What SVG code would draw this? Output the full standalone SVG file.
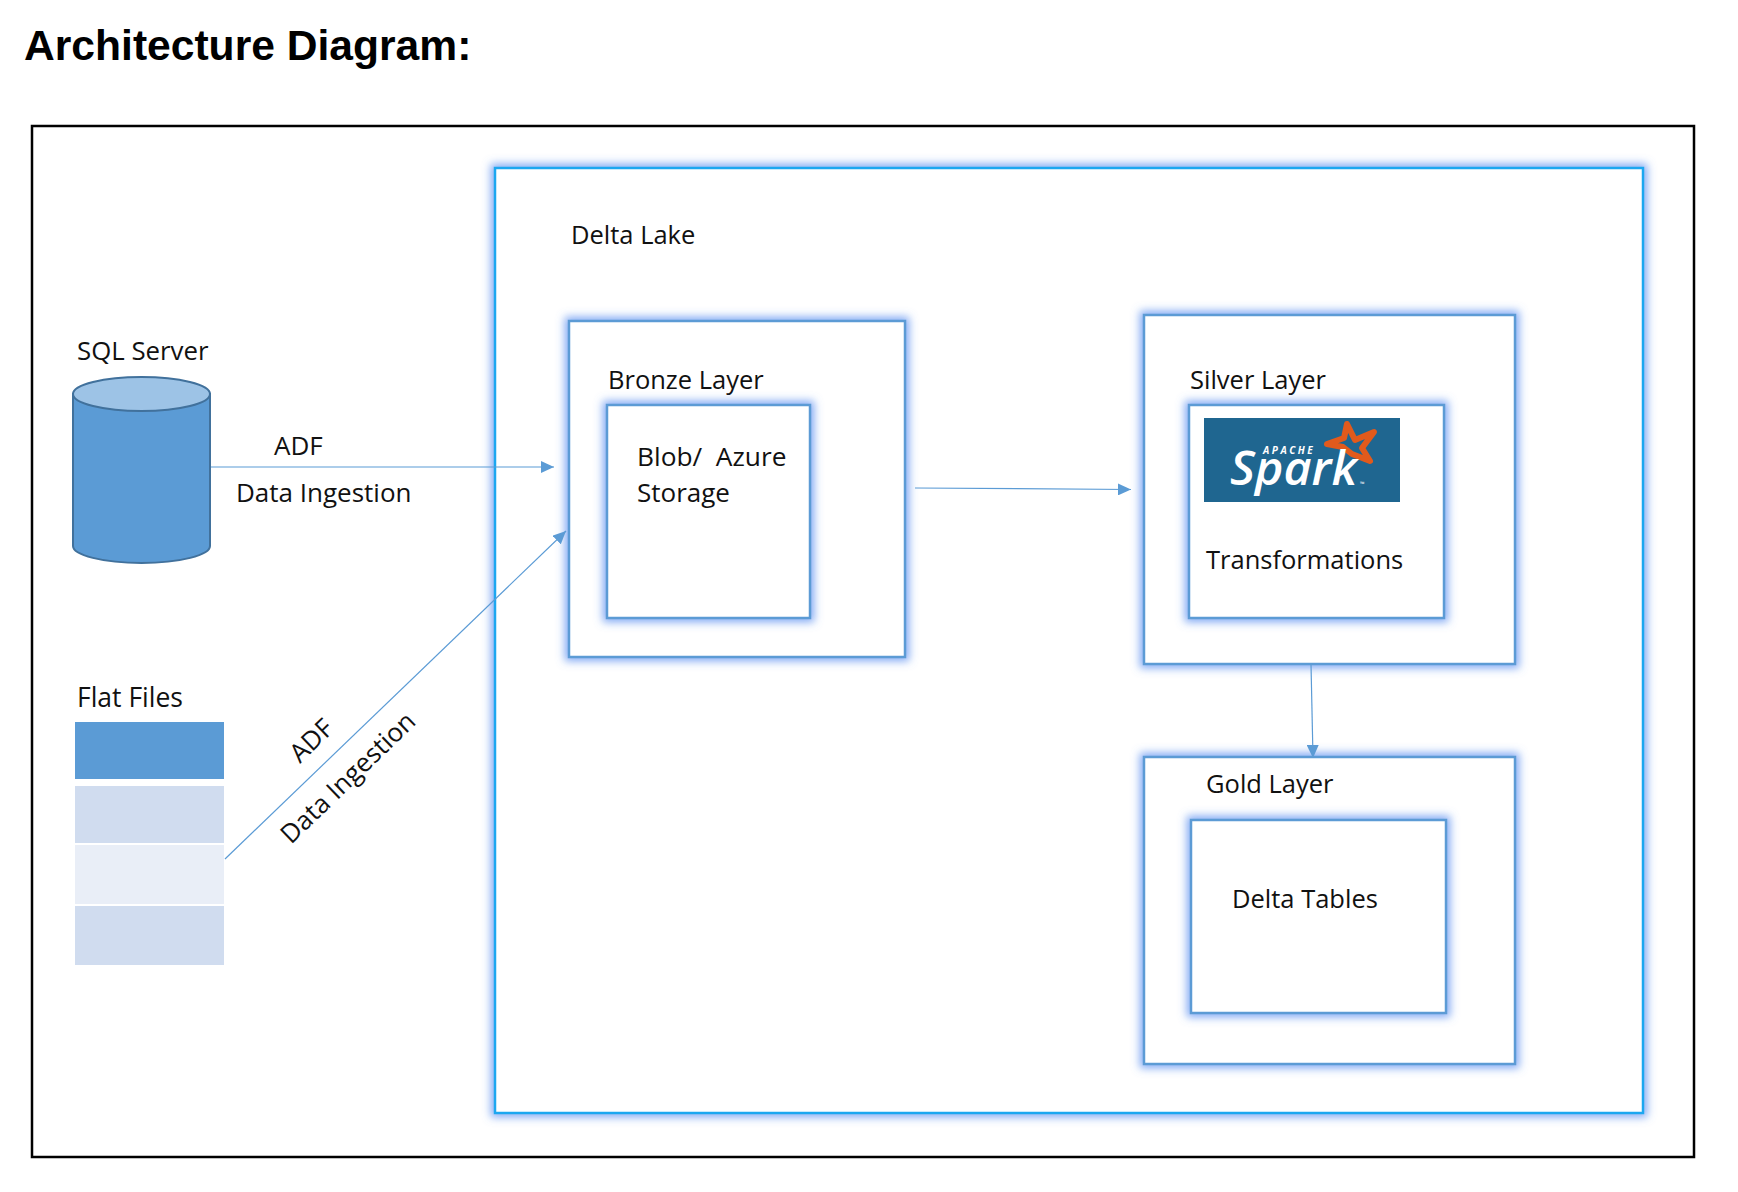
<svg xmlns="http://www.w3.org/2000/svg" width="1738" height="1192" viewBox="0 0 1738 1192">
<style>
text{font-family:"Open Sans","Noto Sans","Liberation Sans",sans-serif;font-size:25.5px;fill:#111}
.box{fill:#fff;stroke:#5b9bd5;stroke-width:2.5;filter:url(#glow)}
.c{fill:none;stroke:#5b9bd5;stroke-width:1.2;marker-end:url(#arr)}
</style>
<defs>
<filter id="glow" x="-10%" y="-10%" width="120%" height="120%"><feMorphology in="SourceAlpha" operator="dilate" radius="3" result="d"/><feGaussianBlur in="d" stdDeviation="4" result="b"/><feFlood flood-color="#5b8ff0" flood-opacity=".75"/><feComposite in2="b" operator="in"/><feMerge><feMergeNode/><feMergeNode in="SourceGraphic"/></feMerge></filter>
<marker id="arr" markerUnits="userSpaceOnUse" markerWidth="14" markerHeight="12" refX="13" refY="6" orient="auto"><path d="M0 0L13 6L0 12Z" fill="#5b9bd5"/></marker>
</defs>
<rect width="1738" height="1192" fill="#fff"/>
<text id="title" x="24" y="60" style="font-family:'Liberation Sans',Arial,sans-serif;font-weight:700;font-size:42.6px;fill:#000">Architecture Diagram:</text>
<rect id="frame" x="32" y="126" width="1662" height="1031" fill="#fff" stroke="#000" stroke-width="2.5"/>
<g id="delta-lake"><rect class="box" x="495" y="168" width="1148" height="945" style="stroke:#1ea7f0"/><text x="571" y="244">Delta Lake</text></g>
<g id="bronze"><rect class="box" x="569" y="321" width="336" height="336"/><text x="608" y="389">Bronze Layer</text>
<rect class="box" x="607" y="405" width="203" height="213"/><text x="637" y="466" style="font-size:26.300px">Blob/&#160; Azure</text><text x="637" y="502" style="font-size:26px">Storage</text></g>
<g id="silver"><rect class="box" x="1144" y="315" width="371" height="349"/><text x="1190" y="389">Silver Layer</text>
<rect class="box" x="1189" y="405" width="255" height="213"/>
<g id="spark-logo"><rect x="1204" y="418" width="196" height="84" fill="#1f6690"/>
<path d="M1347 424L1355 440L1374 432L1362 448L1370 461L1352 454L1343 447L1327 444L1344 438Z" fill="none" stroke="#e25a1c" stroke-width="6" stroke-linejoin="round"/>
<text x="1263" y="454" style="font-size:10px;font-weight:700;font-style:italic;fill:#fff;letter-spacing:2.5px">APACHE</text>
<text x="1230" y="485" textLength="127" lengthAdjust="spacingAndGlyphs" style="font-size:47px;font-weight:600;font-style:italic;fill:#fff">Spark</text>
<text x="1360" y="486" style="font-size:6px;fill:#fff">™</text></g>
<text x="1206" y="569">Transformations</text></g>
<g id="gold"><rect class="box" x="1144" y="757" width="371" height="307"/><text x="1206" y="793">Gold Layer</text>
<rect class="box" x="1191" y="820" width="255" height="193"/><text x="1232" y="908">Delta Tables</text></g>
<g id="sql-server"><text x="77" y="360" style="font-size:25.8px">SQL Server</text>
<path d="M73 394V546C73 555 103 563 141.500 563C180 563 210 555 210 546V394Z" fill="#5b9bd5" stroke="#41719c" stroke-width="2"/>
<ellipse cx="141.500" cy="394" rx="68.500" ry="17" fill="#9dc3e6" stroke="#41719c" stroke-width="2"/></g>
<g id="flat-files"><text x="77" y="707" style="font-size:26.500px">Flat Files</text>
<rect x="75" y="722" width="149" height="57" fill="#5b9bd5"/><rect x="75" y="786" width="149" height="57" fill="#d0dcef"/><rect x="75" y="845" width="149" height="59" fill="#e9eef7"/><rect x="75" y="906" width="149" height="59" fill="#d0dcef"/></g>
<g id="connectors">
<path class="c" d="M211 467H554"/>
<path class="c" d="M225 859L566 531"/>
<path class="c" d="M915 488L1131 489.500"/>
<path class="c" d="M1311 664L1313 758"/>
</g>
<g id="labels">
<text x="274" y="455" style="font-size:26px">ADF</text><text x="236" y="502" style="font-size:26px">Data Ingestion</text>
<text transform="translate(300 764) rotate(-44)" style="font-size:26px">ADF</text>
<text transform="translate(291 845) rotate(-44)" style="font-size:26px">Data Ingestion</text>
</g>
</svg>
